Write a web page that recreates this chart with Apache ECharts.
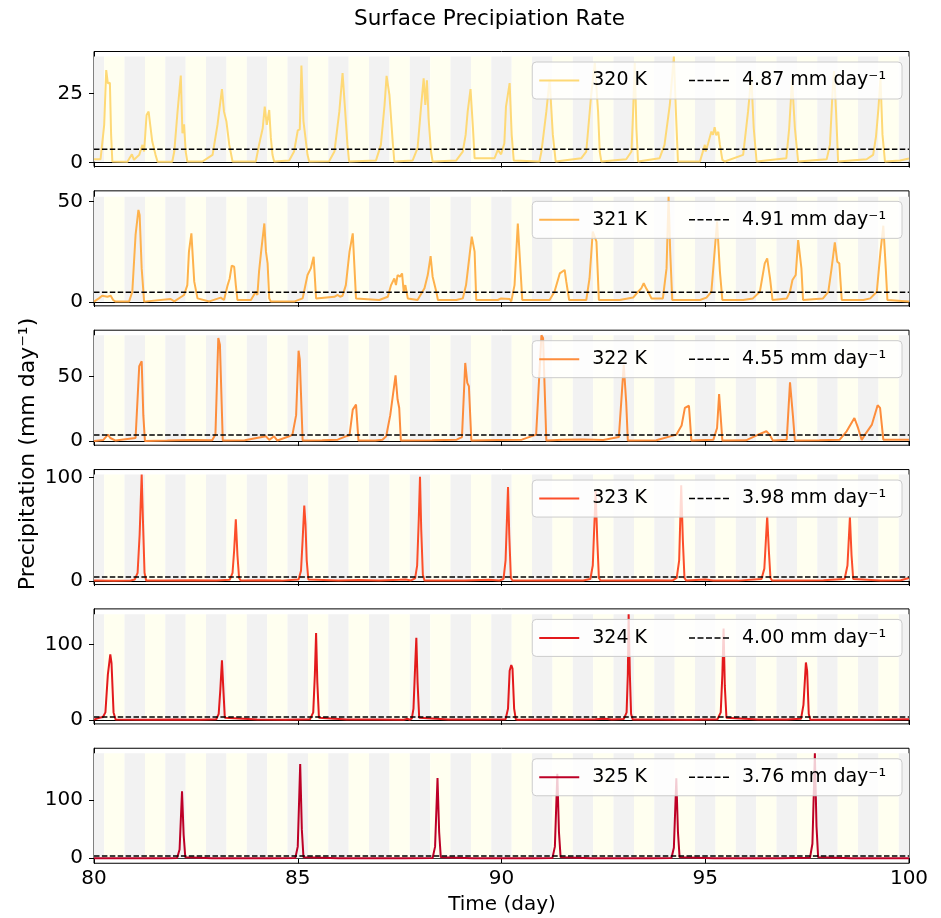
<!DOCTYPE html>
<html>
<head>
<meta charset="utf-8">
<script src="https://cdn.jsdelivr.net/npm/echarts@6/dist/echarts.min.js"></script>
<style>
  html, body { margin: 0; padding: 0; background: #ffffff; }
  #chart { width: 941px; height: 918px; }
</style>
</head>
<body>
<div id="chart"></div>
<script>
// Surface precipitation rate (mm day^-1) versus model time (day) for six SST experiments.
const runLabels = ['320 K', '321 K', '322 K', '323 K', '324 K', '325 K'];
const meanRates = [4.87, 4.91, 4.55, 3.98, 4.00, 3.76];
const lineColors = ['#fed976', '#feb24c', '#fd8d3c', '#fc4e2a', '#e31a1c', '#bd0026'];
const xTicks = [80, 85, 90, 95, 100];
const yTicks = [[0, 25], [0, 50], [0, 50], [0, 100], [0, 100], [0, 100]];
const yLimits = [[-1.4, 40.1], [-1.9, 55.2], [-3.3, 85.9], [-3.4, 107.9], [-5.2, 146.8], [-8.5, 188.7]];

// [day, precipitation]
const precip320 = [
  [80.0, 1.2], [80.16, 1.2], [80.19, 5.2], [80.25, 13.6], [80.30, 33.4], [80.34, 28.6], [80.37, 28.6],
  [80.39, 28.8], [80.42, 10.0], [80.45, 0.4], [80.82, 0.3], [80.93, 3.0], [80.98, 1.0], [81.11, 2.8],
  [81.19, 6.4], [81.23, 4.0], [81.29, 17.2], [81.34, 18.4], [81.43, 7.6], [81.51, 2.8], [81.56, 0.3],
  [81.92, 0.3], [81.97, 4.0], [82.05, 18.4], [82.13, 31.4], [82.17, 10.6], [82.21, 13.8], [82.25, 4.0],
  [82.29, 0.4], [82.66, 0.4], [82.91, 2.8], [83.03, 13.6], [83.14, 26.5], [83.19, 18.4], [83.25, 14.8],
  [83.32, 6.4], [83.40, 0.4], [83.97, 0.4], [84.05, 6.4], [84.14, 12.4], [84.19, 20.2], [84.24, 13.6],
  [84.30, 19.0], [84.34, 9.0], [84.38, 2.8], [84.42, 0.4], [84.79, 0.8], [84.91, 4.0], [85.00, 11.6],
  [85.05, 12.0], [85.09, 35.0], [85.14, 15.0], [85.18, 14.8], [85.24, 2.8], [85.28, 0.4], [85.77, 0.5],
  [85.90, 4.0], [86.02, 18.4], [86.10, 32.3], [86.14, 32.0], [86.22, 6.4], [86.26, 0.4], [86.92, 0.8],
  [87.04, 6.4], [87.13, 20.8], [87.18, 31.3], [87.25, 24.4], [87.33, 7.6], [87.37, 0.4], [87.82, 0.8],
  [87.94, 5.2], [88.03, 20.8], [88.09, 30.4], [88.13, 20.8], [88.17, 29.7], [88.21, 16.0], [88.27, 4.0],
  [88.31, 0.4], [88.89, 0.8], [89.05, 4.0], [89.12, 10.0], [89.17, 18.4], [89.24, 26.5], [89.30, 12.4],
  [89.34, 1.6], [89.83, 1.6], [89.91, 4.6], [89.99, 3.0], [90.02, 4.5], [90.07, 7.0], [90.11, 20.2],
  [90.20, 28.7], [90.25, 10.0], [90.30, 0.8], [90.93, 0.4], [90.98, 4.0], [91.10, 18.4], [91.18, 30.0],
  [91.26, 10.0], [91.33, 0.4], [91.96, 1.6], [92.08, 4.0], [92.20, 24.4], [92.29, 36.0], [92.37, 18.4],
  [92.41, 4.0], [92.45, 0.4], [93.06, 1.2], [93.19, 4.0], [93.23, 18.4], [93.27, 36.0], [93.31, 12.4],
  [93.35, 0.4], [93.88, 1.6], [94.00, 6.4], [94.13, 20.8], [94.23, 38.3], [94.28, 18.4], [94.33, 0.4],
  [94.87, 0.4], [94.99, 6.4], [95.01, 4.0], [95.07, 6.9], [95.15, 11.2], [95.19, 10.0], [95.23, 12.8],
  [95.27, 9.9], [95.32, 11.1], [95.36, 6.4], [95.42, 1.0], [95.48, 0.4], [95.93, 2.8], [96.05, 18.4],
  [96.13, 31.0], [96.19, 12.4], [96.26, 0.4], [96.99, 1.6], [97.06, 12.4], [97.13, 30.0], [97.20, 12.4],
  [97.28, 0.4], [97.98, 1.2], [98.06, 6.4], [98.12, 24.4], [98.16, 33.0], [98.21, 18.4], [98.26, 0.4],
  [98.96, 1.2], [99.12, 2.8], [99.19, 9.4], [99.25, 19.6], [99.30, 30.5], [99.35, 10.0], [99.41, 0.4],
  [99.78, 0.8], [100.0, 1.5]
];

const precip321 = [
  [80.0, 0.2], [80.12, 1.8], [80.20, 3.1], [80.33, 2.6], [80.41, 3.1], [80.47, 1.0], [80.53, 0.2],
  [80.86, 0.2], [80.94, 5.1], [81.02, 33.3], [81.09, 45.7], [81.12, 43.2], [81.17, 16.7], [81.23, 0.2],
  [81.88, 1.5], [81.97, 0.3], [82.21, 3.5], [82.29, 8.4], [82.33, 25.0], [82.39, 34.1], [82.46, 10.1],
  [82.50, 9.8], [82.54, 1.8], [82.83, 0.3], [83.11, 2.2], [83.19, 1.0], [83.28, 8.4], [83.33, 11.7],
  [83.38, 18.0], [83.44, 17.5], [83.48, 8.4], [83.52, 1.0], [83.85, 1.0], [83.97, 5.1], [84.01, 3.5],
  [84.05, 15.1], [84.11, 26.6], [84.18, 39.0], [84.22, 25.0], [84.26, 19.2], [84.30, 1.8], [84.34, 0.2],
  [84.91, 0.2], [85.12, 1.8], [85.24, 13.4], [85.32, 16.7], [85.39, 22.5], [85.45, 1.8], [85.90, 2.6],
  [85.98, 3.5], [86.04, 2.6], [86.10, 3.1], [86.18, 8.4], [86.27, 25.0], [86.35, 34.1], [86.39, 34.1],
  [86.43, 1.8], [87.00, 1.0], [87.21, 2.6], [87.29, 8.4], [87.37, 11.7], [87.41, 8.4], [87.45, 13.4],
  [87.51, 12.6], [87.56, 14.2], [87.60, 5.1], [87.64, 8.4], [87.67, 9.3], [87.70, 1.8], [87.94, 1.0],
  [88.11, 6.8], [88.19, 13.4], [88.26, 22.8], [88.31, 12.6], [88.40, 5.1], [88.44, 1.0], [88.89, 1.0],
  [89.05, 1.8], [89.13, 8.4], [89.27, 32.5], [89.34, 25.0], [89.38, 1.0], [89.91, 1.0], [89.99, 1.8],
  [90.20, 1.5], [90.24, 0.3], [90.32, 8.4], [90.40, 39.0], [90.44, 38.2], [90.51, 1.0], [91.18, 1.0],
  [91.30, 5.1], [91.43, 14.2], [91.47, 13.4], [91.55, 15.9], [91.59, 10.1], [91.66, 1.0], [92.08, 1.0],
  [92.16, 11.7], [92.24, 35.0], [92.33, 30.0], [92.39, 1.0], [92.90, 1.0], [93.23, 2.2], [93.35, 5.1],
  [93.43, 6.8], [93.49, 9.3], [93.55, 6.8], [93.60, 5.1], [93.68, 1.8], [93.96, 1.8], [94.05, 16.7],
  [94.10, 52.3], [94.14, 25.0], [94.19, 1.0], [94.87, 1.0], [95.03, 2.2], [95.15, 5.1], [95.23, 25.0],
  [95.29, 40.0], [95.36, 15.1], [95.42, 1.0], [95.93, 1.0], [96.17, 1.8], [96.34, 5.1], [96.46, 19.2],
  [96.52, 21.7], [96.59, 11.7], [96.65, 1.0], [97.00, 1.8], [97.08, 5.1], [97.14, 10.9], [97.18, 10.1],
  [97.22, 13.4], [97.28, 30.8], [97.36, 16.7], [97.40, 1.0], [97.89, 1.8], [98.02, 5.1], [98.10, 16.7],
  [98.18, 29.6], [98.24, 20.0], [98.29, 19.2], [98.35, 1.0], [98.88, 1.0], [99.05, 1.8], [99.21, 5.1],
  [99.30, 25.0], [99.37, 37.9], [99.43, 16.7], [99.47, 1.0], [100.0, 0.2]
];

const precip322 = [
  [80.0, 0.0], [80.23, 0.8], [80.34, 4.9], [80.40, 2.3], [80.53, 0.3], [81.02, 2.3], [81.11, 58.0],
  [81.17, 61.8], [81.21, 20.0], [81.25, 0.0], [81.80, 0.3], [82.38, 0.8], [82.90, 0.5], [82.98, 5.0],
  [83.05, 79.8], [83.09, 74.7], [83.16, 0.3], [83.70, 0.5], [84.22, 3.6], [84.30, 0.8], [84.42, 3.6],
  [84.50, 0.3], [84.79, 3.6], [84.87, 4.9], [84.96, 20.0], [85.02, 70.0], [85.05, 63.0], [85.12, 0.3],
  [85.60, 0.5], [85.98, 1.0], [86.18, 3.6], [86.27, 4.4], [86.35, 24.3], [86.43, 28.2], [86.49, 0.3],
  [86.90, 0.3], [87.08, 1.0], [87.17, 3.6], [87.27, 20.0], [87.40, 50.9], [87.45, 32.1], [87.49, 25.6],
  [87.53, 0.3], [88.30, 0.5], [88.90, 1.0], [89.03, 3.0], [89.11, 60.5], [89.16, 45.0], [89.20, 42.4],
  [89.26, 0.3], [89.90, 0.8], [90.50, 1.0], [90.85, 4.9], [90.98, 81.9], [91.02, 79.8], [91.10, 0.3],
  [91.50, 1.0], [92.00, 1.2], [92.50, 0.8], [92.88, 3.0], [93.00, 59.0], [93.06, 30.0], [93.10, 0.3],
  [93.80, 0.5], [94.29, 4.9], [94.42, 12.0], [94.50, 25.6], [94.60, 27.3], [94.66, 0.3], [95.20, 1.0],
  [95.29, 10.0], [95.34, 36.4], [95.42, 0.3], [96.00, 0.5], [96.30, 4.9], [96.50, 7.5], [96.58, 4.9],
  [96.66, 0.3], [97.00, 1.0], [97.08, 45.5], [97.15, 20.0], [97.20, 0.3], [97.80, 0.5], [98.30, 1.0],
  [98.47, 7.5], [98.66, 17.8], [98.75, 10.1], [98.84, 0.8], [98.92, 4.9], [99.09, 12.7], [99.23, 27.7],
  [99.29, 25.6], [99.37, 1.0], [100.0, 1.0]
];

const precip323 = [
  [80.0, 0.5], [80.5, 0.3], [80.9, 0.6], [81.0, 1.5], [81.07, 8], [81.12, 45], [81.17, 103], [81.20, 60],
  [81.24, 8], [81.28, 0.6], [81.8, 0.4], [82.4, 0.8], [83.0, 0.5], [83.33, 1.2], [83.40, 8], [83.44, 30],
  [83.48, 59.7], [83.52, 25], [83.56, 3], [83.60, 0.5], [84.1, 0.8], [84.6, 0.4], [85.02, 1.5], [85.08, 10],
  [85.12, 40], [85.16, 73], [85.19, 55], [85.22, 20], [85.26, 1.5], [85.30, 0.5], [86.0, 0.5], [86.5, 1.0],
  [87.0, 0.4], [87.5, 1.2], [87.65, 1.5], [87.78, 0.6], [87.88, 2.5], [87.93, 15], [87.97, 60], [88.00, 101],
  [88.03, 50], [88.07, 6], [88.11, 0.5], [88.6, 0.4], [89.1, 0.6], [89.7, 1.2], [89.95, 0.5], [90.05, 2],
  [90.10, 20], [90.16, 91], [90.19, 45], [90.23, 3], [90.27, 0.5], [90.8, 0.4], [91.4, 0.8], [92.0, 0.5],
  [92.18, 2], [92.24, 15], [92.31, 87], [92.35, 40], [92.39, 3], [92.43, 0.5], [93.0, 0.5], [93.6, 0.8],
  [94.2, 0.6], [94.30, 3], [94.36, 20], [94.41, 92.6], [94.45, 40], [94.49, 3], [94.53, 0.6], [95.0, 1.5],
  [95.2, 0.5], [95.8, 0.4], [96.38, 2], [96.45, 12], [96.52, 63], [96.56, 30], [96.60, 3], [96.64, 0.5],
  [97.2, 0.4], [97.9, 0.8], [98.42, 2], [98.49, 15], [98.55, 62], [98.59, 25], [98.63, 2], [98.67, 0.4],
  [99.3, 0.5], [99.8, 0.8], [100.0, 3]
];

const precip324 = [
  [80.0, 0.5], [80.13, 3], [80.22, 4], [80.28, 10], [80.34, 60], [80.40, 86.8], [80.43, 75], [80.48, 10],
  [80.53, 0.5], [81.2, 0.4], [82.0, 0.5], [82.6, 0.3], [83.0, 1.0], [83.06, 8], [83.10, 40], [83.14, 79],
  [83.17, 45], [83.21, 3], [83.25, 0.4], [84.0, 0.5], [84.7, 0.4], [85.3, 0.8], [85.38, 10], [85.42, 60],
  [85.45, 115], [85.48, 50], [85.52, 3], [85.56, 0.4], [86.2, 0.5], [86.9, 0.6], [87.6, 0.4], [87.70, 1.5],
  [87.75, 0.3], [87.80, 2], [87.84, 15], [87.88, 70], [87.91, 108.7], [87.94, 50], [87.98, 3], [88.02, 0.4],
  [88.7, 0.5], [89.4, 0.6], [90.10, 1.0], [90.16, 15], [90.20, 65], [90.24, 72.6], [90.27, 68], [90.31, 15],
  [90.35, 1], [90.40, 0.4], [91.0, 0.5], [91.7, 0.6], [92.3, 0.8], [92.55, 1.5], [92.7, 0.6], [93.00, 1.2],
  [93.07, 10], [93.10, 60], [93.12, 139.6], [93.15, 60], [93.18, 8], [93.22, 0.5], [93.9, 0.5], [94.6, 0.4],
  [95.30, 1.0], [95.38, 10], [95.42, 60], [95.45, 121], [95.48, 45], [95.52, 3], [95.56, 0.4], [96.3, 0.5],
  [97.0, 0.5], [97.35, 1.5], [97.41, 20], [97.47, 76], [97.50, 65], [97.54, 8], [97.58, 0.4], [98.3, 0.5],
  [99.1, 0.4], [100.0, 0.8]
];

const precip325 = [
  [80.0, 0.2], [80.6, 0.1], [81.2, 0.2], [81.8, 0.1], [82.04, 0.6], [82.10, 15], [82.16, 115], [82.20, 40],
  [82.24, 2], [82.28, 0.2], [82.9, 0.1], [83.6, 0.2], [84.3, 0.1], [84.94, 0.6], [85.00, 20], [85.06, 161.7],
  [85.10, 50], [85.14, 2], [85.18, 0.2], [86.0, 0.1], [86.8, 0.2], [87.6, 0.1], [88.31, 0.5], [88.37, 20],
  [88.43, 137.7], [88.47, 45], [88.51, 2], [88.55, 0.2], [89.3, 0.1], [90.1, 0.2], [90.8, 0.1], [91.25, 0.6],
  [91.31, 20], [91.37, 145], [91.41, 45], [91.45, 2], [91.49, 0.2], [92.2, 0.1], [93.0, 0.2], [93.7, 0.1],
  [94.17, 0.6], [94.23, 18], [94.29, 137], [94.33, 45], [94.37, 2], [94.41, 0.2], [95.2, 0.1], [96.0, 0.2],
  [96.8, 0.1], [97.57, 0.8], [97.63, 25], [97.69, 180], [97.73, 55], [97.77, 2], [97.81, 0.2], [98.6, 0.1],
  [99.3, 0.2], [100.0, 0.1]
];

const runSeries = [precip320, precip321, precip322, precip323, precip324, precip325];

// Local daylight window within each model day (fraction of a day)
const DAYLIGHT_START = 0.25;
const DAYLIGHT_END = 0.75;
const T0 = 80, T1 = 100;

// Alternating night / day bands: [start, end, isDay]
const bands = [];
for (let d = T0 - 1; d <= T1; d++) {
  const segs = [
    [d + DAYLIGHT_START, d + DAYLIGHT_END, 1],
    [d + DAYLIGHT_END, d + 1 + DAYLIGHT_START, 0]
  ];
  segs.forEach(([a, b, k]) => {
    const s = Math.max(a, T0), e = Math.min(b, T1);
    if (e > s) bands.push([s, e, k]);
  });
}

// Legend glyphs: a solid stroke and a dashed stroke
const SOLID_ICON = 'path://M0,0H40V2H0Z';
const DASHED_ICON = 'path://M0,0h6v1.5h-6z M8.5,0h6v1.5h-6z M17,0h6v1.5h-6z M25.5,0h6v1.5h-6z M34,0h6v1.5h-6z';

const FONT = 'DejaVu Sans';
const GRID_LEFT = 94, GRID_RIGHT = 32, TOP0 = 51.5, STEP = 139.35, PANEL_H = 115;

const grids = [], xAxes = [], yAxes = [], series = [], legends = [];

runSeries.forEach((data, i) => {
  const top = TOP0 + STEP * i;
  const meanName = meanRates[i].toFixed(2) + ' mm day\u207B\u00B9';
  const vals = data.map(p => p[1]);
  const lo = Math.min(...vals), hi = Math.max(...vals);

  grids.push({
    left: GRID_LEFT, right: GRID_RIGHT, top: top, height: PANEL_H,
    show: true, borderColor: '#000', borderWidth: 1, backgroundColor: 'transparent'
  });

  xAxes.push({
    type: 'value', gridIndex: i, min: T0, max: T1, interval: 5,
    axisLine: { show: true, lineStyle: { color: '#000', width: 1 } },
    axisTick: { show: true, length: 5, lineStyle: { color: '#000', width: 1 } },
    axisLabel: {
      show: i === runSeries.length - 1, fontFamily: FONT, fontSize: 20, color: '#000', margin: 6,
      customValues: xTicks
    },
    splitLine: { show: false }
  });

  yAxes.push({
    type: 'value', gridIndex: i, min: yLimits[i][0], max: yLimits[i][1],
    axisLine: { show: true, lineStyle: { color: '#000', width: 1 } },
    axisTick: { show: true, length: 5, lineStyle: { color: '#000', width: 1 }, customValues: yTicks[i] },
    axisLabel: { fontFamily: FONT, fontSize: 20, color: '#000', margin: 11, customValues: yTicks[i] },
    splitLine: { show: false }
  });

  // day / night shading spanning the range of the data
  series.push({
    type: 'custom', xAxisIndex: i, yAxisIndex: i, silent: true, z: 1, clip: true,
    data: bands,
    renderItem: (params, api) => {
      const p0 = api.coord([api.value(0), hi]);
      const p1 = api.coord([api.value(1), lo]);
      return {
        type: 'rect',
        shape: { x: p0[0], y: p0[1], width: p1[0] - p0[0], height: p1[1] - p0[1] },
        style: { fill: api.value(2) ? '#fffff0' : '#f2f2f2' }
      };
    }
  });

  series.push({
    name: runLabels[i], type: 'line', xAxisIndex: i, yAxisIndex: i, data: data,
    symbol: 'none', showSymbol: false, z: 3,
    lineStyle: { color: lineColors[i], width: 2 }, itemStyle: { color: lineColors[i] }
  });

  series.push({
    name: meanName, type: 'line', xAxisIndex: i, yAxisIndex: i,
    data: [[T0, meanRates[i]], [T1, meanRates[i]]],
    symbol: 'none', showSymbol: false, z: 4, silent: true,
    lineStyle: { color: '#000', width: 1.5, type: [5.5, 2.4] }, itemStyle: { color: '#000' }
  });

  legends.push({
    data: [
      { name: runLabels[i], icon: SOLID_ICON, itemStyle: { color: lineColors[i] } },
      { name: meanName, icon: DASHED_ICON, itemStyle: { color: '#000' } }
    ],
    right: 39, top: top + 10.5, orient: 'horizontal',
    itemWidth: 40, itemHeight: 2, itemGap: 42,
    padding: [8, 16, 8, 7],
    backgroundColor: 'rgba(255,255,255,0.8)', borderColor: '#cccccc', borderWidth: 1, borderRadius: 4,
    selectedMode: false,
    textStyle: { fontFamily: FONT, fontSize: 19, lineHeight: 21, color: '#000', padding: [0, 0, 0, 8] }
  });
});

const chart = echarts.init(document.getElementById('chart'), null, { renderer: 'canvas' });
chart.setOption({
  animation: false,
  backgroundColor: '#ffffff',
  grid: grids, xAxis: xAxes, yAxis: yAxes, series: series, legend: legends,
  graphic: [
    { type: 'text', x: 489.5, y: 19, style: { text: 'Surface Precipiation Rate', font: '21.5px "DejaVu Sans"', fill: '#000', align: 'center', verticalAlign: 'middle', textAlign: 'center', textVerticalAlign: 'middle' } },
    { type: 'text', x: 502, y: 905, style: { text: 'Time (day)', font: '20px "DejaVu Sans"', fill: '#000', align: 'center', verticalAlign: 'middle', textAlign: 'center', textVerticalAlign: 'middle' } },
    { type: 'text', x: 28, y: 454, rotation: Math.PI / 2, style: { text: 'Precipitation (mm day\u207B\u00B9)', font: '22px "DejaVu Sans"', fill: '#000', align: 'center', verticalAlign: 'middle', textAlign: 'center', textVerticalAlign: 'middle' } }
  ]
});
</script>
</body>
</html>
